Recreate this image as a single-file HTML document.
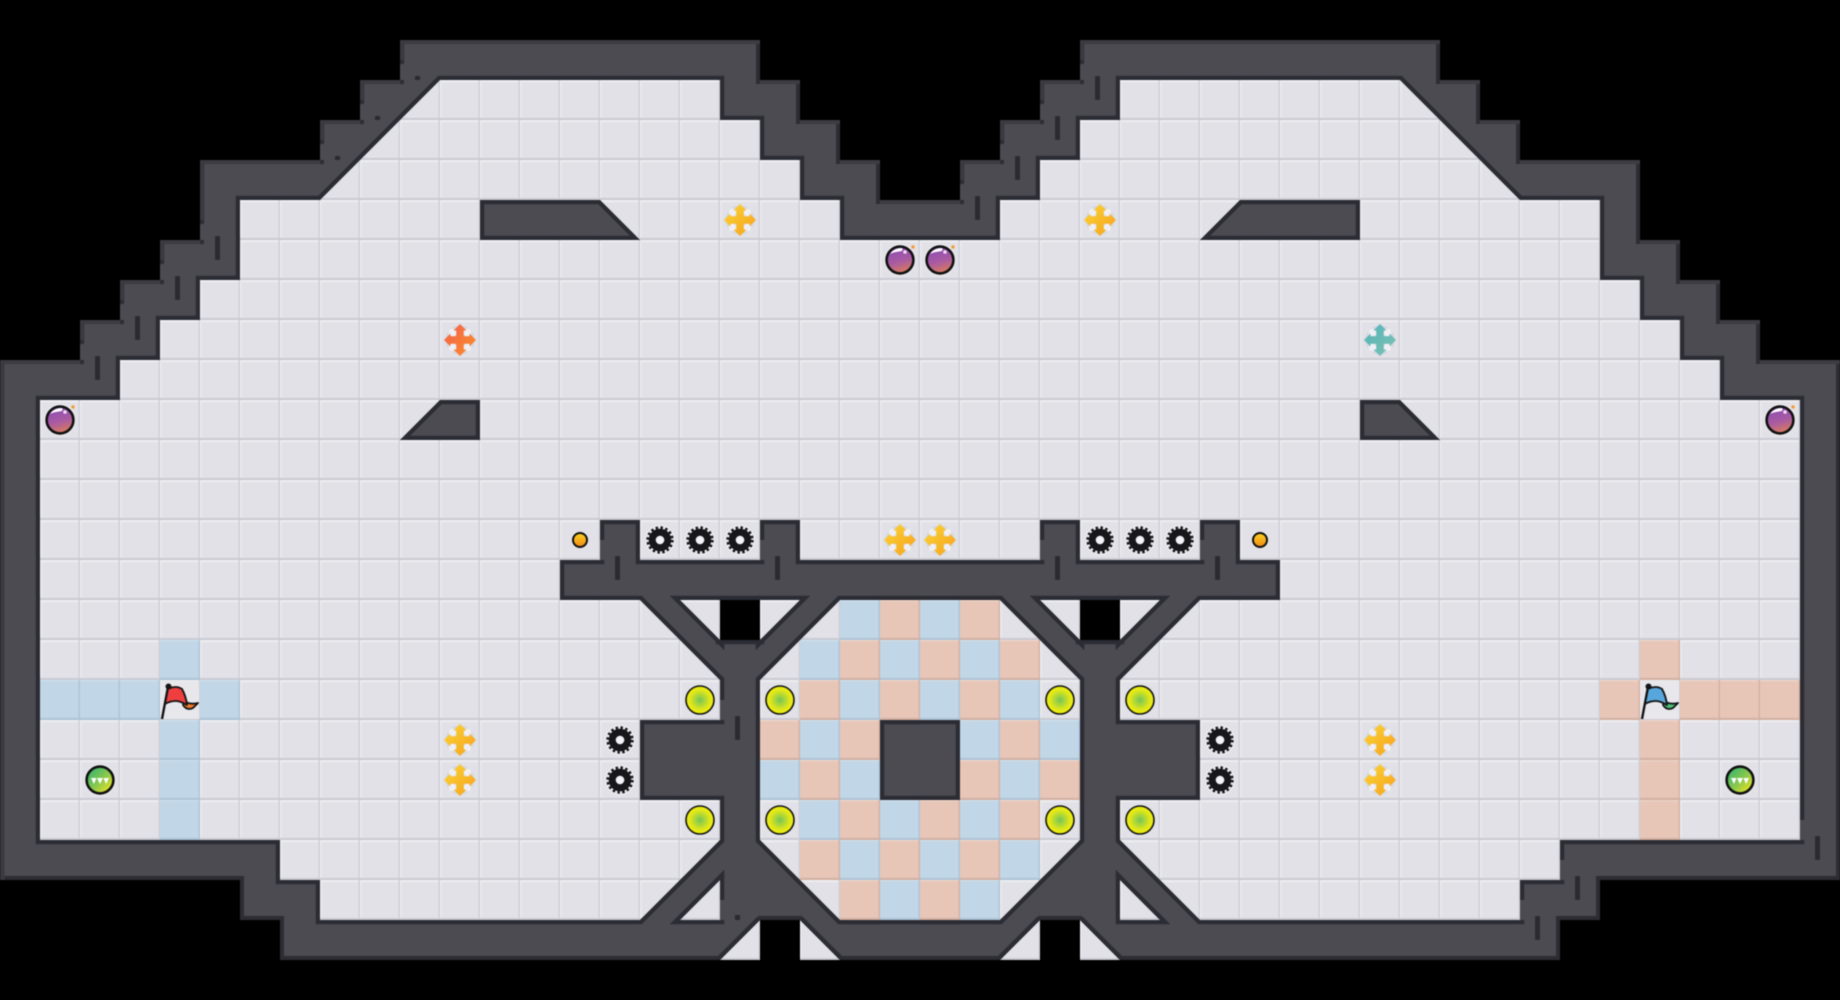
<!DOCTYPE html>
<html><head><meta charset="utf-8"><style>html,body{margin:0;padding:0;background:#000;overflow:hidden}svg{display:block;filter:blur(.55px)}</style></head>
<body>
<svg xmlns="http://www.w3.org/2000/svg" width="1840" height="1000" viewBox="0 0 1840 1000">
<defs>
<pattern id="t" width="40" height="40" patternUnits="userSpaceOnUse"><rect width="40" height="40" fill="#e1e1e7"/><rect width="40" height="2" fill="#ecedf1"/><rect width="1.500" height="40" fill="#ebebef"/><rect x="38.500" width="1.500" height="40" fill="#d0d0d8"/><rect y="38" width="40" height="2" fill="#cacad3"/></pattern>
<pattern id="b" width="40" height="40" patternUnits="userSpaceOnUse"><rect width="40" height="40" fill="#c1d6e6"/><rect width="40" height="1.500" fill="#cbdeec"/><rect x="38.500" width="1.500" height="40" fill="#afc6d9"/><rect y="38" width="40" height="2" fill="#adc4d7"/></pattern>
<pattern id="p" width="40" height="40" patternUnits="userSpaceOnUse"><rect width="40" height="40" fill="#e7c6b8"/><rect width="40" height="1.500" fill="#edd2c6"/><rect x="38.500" width="1.500" height="40" fill="#d4b1a3"/><rect y="38" width="40" height="2" fill="#d2afa1"/></pattern>
<linearGradient id="gy" x1="0" y1="0" x2="1" y2="1"><stop offset="0" stop-color="#fcd634"/><stop offset="1" stop-color="#f6a01e"/></linearGradient>
<linearGradient id="go" x1="0" y1="0" x2="1" y2="1"><stop offset="0" stop-color="#f4604a"/><stop offset="1" stop-color="#fb8f2a"/></linearGradient>
<linearGradient id="gt" x1="0" y1="0" x2="1" y2="1"><stop offset="0" stop-color="#54b3b8"/><stop offset="1" stop-color="#7dc2b4"/></linearGradient>
<radialGradient id="gl"><stop offset="0" stop-color="#74c45a"/><stop offset=".7" stop-color="#dfe71a"/><stop offset="1" stop-color="#f2f00a"/></radialGradient>
<linearGradient id="gb" x1="0.2" y1="0" x2="0.5" y2="1"><stop offset="0" stop-color="#8a4ab8"/><stop offset=".6" stop-color="#aa5ca0"/><stop offset="1" stop-color="#da7a5c"/></linearGradient>
<linearGradient id="gg" x1="0.1" y1="0.1" x2="0.9" y2="0.9"><stop offset="0" stop-color="#36b46e"/><stop offset=".55" stop-color="#8cc84c"/><stop offset="1" stop-color="#ece420"/></linearGradient>
<linearGradient id="gd" x1="0" y1="0" x2="0" y2="1"><stop offset="0" stop-color="#ffd420"/><stop offset="1" stop-color="#ee8812"/></linearGradient>
<path id="wallp" fill-rule="evenodd" d="M0 360H80V320H120V280H160V240H200V160H320V120H360V80H400V40H760V80H800V120H840V160H880V200H960V160H1000V120H1040V80H1080V40H1440V80H1480V120H1520V160H1640V240H1680V280H1720V320H1760V360H1840V880H1600V920H1560V960H1120L1080 920H1040L1000 960H840L800 920H760L720 960H280V920H240V880H0Z
M40 400H120V360H160V320H200V280H240V200H320L440 80H720V120H760V160H800V200H840V240H1000V200H1040V160H1080V120H1120V80H1400L1520 200H1600V280H1640V320H1680V360H1720V400H1800V840H1560V880H1520V920H1200L1120 840V800H1200V720H1120V680L1200 600H1280V560H1240V520H1200V560H1080V520H1040V560H800V520H760V560H640V520H600V560H560V600H640L720 680V720H640V800H720V840L640 920H320V880H280V840H40Z
M760 680L840 600H1000L1080 680V840L1000 920H840L760 840Z
M880 720H960V800H880Z
M480 200H600L640 240H480Z M1360 200H1240L1200 240H1360Z M400 440L440 400H480V440Z M1440 440L1400 400H1360V440Z
M680 600H720V640Z M760 600H800L760 640Z M1160 600H1120V640Z M1080 600H1040L1080 640Z M680 920L720 880V920Z M1160 920L1120 880V920Z
M720 600H760V640H720Z M1080 600H1120V640H1080Z"/>
<clipPath id="wc"><path clip-rule="evenodd" d="M0 360H80V320H120V280H160V240H200V160H320V120H360V80H400V40H760V80H800V120H840V160H880V200H960V160H1000V120H1040V80H1080V40H1440V80H1480V120H1520V160H1640V240H1680V280H1720V320H1760V360H1840V880H1600V920H1560V960H1120L1080 920H1040L1000 960H840L800 920H760L720 960H280V920H240V880H0Z
M40 400H120V360H160V320H200V280H240V200H320L440 80H720V120H760V160H800V200H840V240H1000V200H1040V160H1080V120H1120V80H1400L1520 200H1600V280H1640V320H1680V360H1720V400H1800V840H1560V880H1520V920H1200L1120 840V800H1200V720H1120V680L1200 600H1280V560H1240V520H1200V560H1080V520H1040V560H800V520H760V560H640V520H600V560H560V600H640L720 680V720H640V800H720V840L640 920H320V880H280V840H40Z
M760 680L840 600H1000L1080 680V840L1000 920H840L760 840Z
M880 720H960V800H880Z
M480 200H600L640 240H480Z M1360 200H1240L1200 240H1360Z M400 440L440 400H480V440Z M1440 440L1400 400H1360V440Z
M680 600H720V640Z M760 600H800L760 640Z M1160 600H1120V640Z M1080 600H1040L1080 640Z M680 920L720 880V920Z M1160 920L1120 880V920Z
M720 600H760V640H720Z M1080 600H1120V640H1080Z"/></clipPath>
<g id="cross"><circle r="14.500" fill="#d2d5e0" opacity=".85"/><circle cx="-7.500" cy="-7.500" r="3.800" fill="#f0f0f4"/><circle cx="7.500" cy="-7.500" r="3.800" fill="#f0f0f4"/><circle cx="-7.500" cy="7.500" r="3.800" fill="#f0f0f4"/><circle cx="7.500" cy="7.500" r="3.800" fill="#f0f0f4"/><path d="M0 -16L6.500 -9.500H3.700V-3.700H9.500V-6.500L16 0L9.500 6.500V3.700H3.700V9.500H6.500L0 16L-6.500 9.500H-3.700V3.700H-9.500V6.500L-16 0L-9.500 -6.500V-3.700H-3.700V-9.500H-6.500Z"/></g>
<g id="gear"><circle r="15.500" fill="#ecedf0" opacity=".6"/><circle r="11.300" fill="#18181c"/><circle r="12" fill="none" stroke="#18181c" stroke-width="3.400" stroke-dasharray="2.360 2.360"/><circle r="4.300" fill="#f4f4f6"/></g>
<g id="lime"><circle r="14" fill="url(#gl)" stroke="#141414" stroke-width="1.600"/></g>
<g id="bomb"><circle r="16" fill="#ecedf0" opacity=".6"/><circle r="13.400" fill="url(#gb)" stroke="#111" stroke-width="2.600"/><path d="M-10 -6Q-6 -12 2 -12Q4 -9 -1 -8.500Q-6 -8 -10 -6Z" fill="#fff"/><circle cx="5" cy="-8" r="1.800" fill="#f0dcf0"/><rect x="11.500" y="-14.500" width="3" height="3" fill="#f39a2c"/></g>
<g id="green"><circle r="16" fill="#ecedf0" opacity=".6"/><circle r="13.400" fill="url(#gg)" stroke="#111" stroke-width="2.600"/><path d="M-9 -2H-3.500L-6 4ZM-3 -2H3L0 4ZM3.500 -2H9L6 4Z" fill="#fff"/></g>
<g id="dot"><circle r="7" fill="url(#gd)" stroke="#111" stroke-width="2"/></g>
</defs>
<rect width="1840" height="1000" fill="#000"/>
<!-- floor -->
<path fill="url(#t)" d="M0 360H80V320H120V280H160V240H200V160H320V120H360V80H400V40H760V80H800V120H840V160H880V200H960V160H1000V120H1040V80H1080V40H1440V80H1480V120H1520V160H1640V240H1680V280H1720V320H1760V360H1840V880H1600V920H1560V960H1120L1080 920H1040L1000 960H840L800 920H760L720 960H280V920H240V880H0Z"/>
<path fill="url(#t)" d="M720 960L760 920V960Z M800 920L840 960H800Z M1000 960L1040 920V960Z M1080 920L1120 960H1080Z"/>
<!-- coloured tiles -->
<path fill="url(#b)" d="M160 640h40v40h-40z M40 680h120v40h-120z M200 680h40v40h-40z M160 720h40v120h-40z
M840 600h40v40h-40z M920 600h40v40h-40z
M800 640h40v40h-40z M880 640h40v40h-40z M960 640h40v40h-40z
M840 680h40v40h-40z M920 680h40v40h-40z M1000 680h40v40h-40z
M800 720h40v40h-40z M960 720h40v40h-40z M1040 720h40v40h-40z
M760 760h40v40h-40z M840 760h40v40h-40z M1000 760h40v40h-40z
M800 800h40v40h-40z M880 800h40v40h-40z M960 800h40v40h-40z
M840 840h40v40h-40z M920 840h40v40h-40z M1000 840h40v40h-40z
M880 880h40v40h-40z M960 880h40v40h-40z"/>
<path fill="url(#p)" d="M1640 640h40v40h-40z M1600 680h40v40h-40z M1680 680h120v40h-120z M1640 720h40v120h-40z
M880 600h40v40h-40z M960 600h40v40h-40z
M840 640h40v40h-40z M920 640h40v40h-40z M1000 640h40v40h-40z
M800 680h40v40h-40z M880 680h40v40h-40z M960 680h40v40h-40z
M760 720h40v40h-40z M840 720h40v40h-40z M1000 720h40v40h-40z
M800 760h40v40h-40z M960 760h40v40h-40z M1040 760h40v40h-40z
M840 800h40v40h-40z M920 800h40v40h-40z M1000 800h40v40h-40z
M800 840h40v40h-40z M880 840h40v40h-40z M960 840h40v40h-40z
M840 880h40v40h-40z M920 880h40v40h-40z"/>
<!-- black gaps -->
<rect x="720" y="600" width="40" height="40" fill="#000"/><rect x="1080" y="600" width="40" height="40" fill="#000"/>
<!-- walls -->
<use href="#wallp" fill="#4b4b51"/>
<g clip-path="url(#wc)">
<path fill="none" stroke="#2d2d33" stroke-width="8" d="M0 360H80V320H120V280H160V240H200V160H320V120H360V80H400V40H760V80H800V120H840V160H880V200H960V160H1000V120H1040V80H1080V40H1440V80H1480V120H1520V160H1640V240H1680V280H1720V320H1760V360H1840V880H1600V920H1560V960H1120L1080 920H1040L1000 960H840L800 920H760L720 960H280V920H240V880H0Z"/>
<path fill="none" stroke="#2c2c34" stroke-width="8.500" d="M40 400H120V360H160V320H200V280H240V200H320L440 80H720V120H760V160H800V200H840V240H1000V200H1040V160H1080V120H1120V80H1400L1520 200H1600V280H1640V320H1680V360H1720V400H1800V840H1560V880H1520V920H1200L1120 840V800H1200V720H1120V680L1200 600H1280V560H1240V520H1200V560H1080V520H1040V560H800V520H760V560H640V520H600V560H560V600H640L720 680V720H640V800H720V840L640 920H320V880H280V840H40Z
M760 680L840 600H1000L1080 680V840L1000 920H840L760 840Z
M880 720H960V800H880Z
M480 200H600L640 240H480Z M1360 200H1240L1200 240H1360Z M400 440L440 400H480V440Z M1440 440L1400 400H1360V440Z
M680 600H720V640Z M760 600H800L760 640Z M1160 600H1120V640Z M1080 600H1040L1080 640Z M680 920L720 880V920Z M1160 920L1120 880V920Z
M720 600H760V640H720Z M1080 600H1120V640H1080Z
M720 960L760 920M800 920L840 960M1000 960L1040 920M1080 920L1120 960"/>
<!-- lighter top / left outer strips -->
<path fill="none" stroke="#3c3c42" stroke-width="8" d="M0 360h80M80 320h40M120 280h40M160 240h40M200 160h120M320 120h40M360 80h40M400 40h360M760 80h40M800 120h40M840 160h40M880 200h80M960 160h40M1000 120h40M1040 80h40M1080 40h360M1440 80h40M1480 120h40M1520 160h120M1640 240h40M1680 280h40M1720 320h40M1760 360h80"/>
<path fill="none" stroke="#3a3a40" stroke-width="9" d="M0 360V880M400 40v20M360 80v20M320 120v20M200 160v60M160 240v20M120 280v20M80 320v20M960 160v20M1000 120v20M1040 80v20M1080 40v20"/>
<!-- plain patches where strips stop -->
<path fill="#4b4b51" d="M400 64h5v16h-5zM360 104h5v16h-5zM320 144h5v16h-5zM200 224h5v16h-5zM160 264h5v16h-5zM120 304h5v16h-5zM80 344h5v16h-5zM960 184h5v16h-5zM1000 144h5v16h-5zM1040 104h5v16h-5zM1080 64h5v16h-5z
M600 540h5v20h-5zM760 540h5v20h-5zM1040 540h5v20h-5zM1200 540h5v20h-5zM720 700h5v20h-5zM720 900h5v20h-5zM1800 820h5v20h-5zM1560 860h5v20h-5zM1520 900h5v20h-5z"/>
<!-- bars -->
<g fill="#2a2a31">
<rect x="95" y="356" width="5" height="24" rx="1.500"/><rect x="135" y="316" width="5" height="24" rx="1.500"/><rect x="175" y="276" width="5" height="24" rx="1.500"/><rect x="215" y="236" width="5" height="24" rx="1.500"/>
<rect x="335" y="156" width="5" height="4"/><rect x="375" y="116" width="5" height="4"/><rect x="415" y="76" width="5" height="4"/>
<rect x="975" y="196" width="5" height="24" rx="1.500"/><rect x="1015" y="156" width="5" height="24" rx="1.500"/><rect x="1055" y="116" width="5" height="24" rx="1.500"/><rect x="1095" y="76" width="5" height="24" rx="1.500"/>
<rect x="615" y="556" width="5" height="24" rx="1.500"/><rect x="775" y="556" width="5" height="24" rx="1.500"/><rect x="1055" y="556" width="5" height="24" rx="1.500"/><rect x="1215" y="556" width="5" height="24" rx="1.500"/>
<rect x="735" y="716" width="5" height="24" rx="1.500"/><rect x="735" y="915" width="5" height="5"/>
<rect x="1815" y="836" width="5" height="24" rx="1.500"/><rect x="1575" y="876" width="5" height="24" rx="1.500"/><rect x="1535" y="916" width="5" height="24" rx="1.500"/>
</g>
</g>
<!-- items -->
<g fill="url(#gy)">
<use href="#cross" x="740" y="220"/><use href="#cross" x="1100" y="220"/><use href="#cross" x="900" y="540"/><use href="#cross" x="940" y="540"/>
<use href="#cross" x="460" y="740"/><use href="#cross" x="460" y="780"/><use href="#cross" x="1380" y="740"/><use href="#cross" x="1380" y="780"/>
</g>
<use href="#cross" x="460" y="340" fill="url(#go)"/>
<use href="#cross" x="1380" y="340" fill="url(#gt)"/>
<use href="#bomb" x="900" y="260"/><use href="#bomb" x="940" y="260"/><use href="#bomb" x="60" y="420"/><use href="#bomb" x="1780" y="420"/>
<use href="#dot" x="580" y="540"/><use href="#dot" x="1260" y="540"/>
<use href="#gear" x="660" y="540"/><use href="#gear" x="700" y="540"/><use href="#gear" x="740" y="540"/>
<use href="#gear" x="1100" y="540"/><use href="#gear" x="1140" y="540"/><use href="#gear" x="1180" y="540"/>
<use href="#gear" x="620" y="740"/><use href="#gear" x="620" y="780"/><use href="#gear" x="1220" y="740"/><use href="#gear" x="1220" y="780"/>
<use href="#lime" x="700" y="700"/><use href="#lime" x="780" y="700"/><use href="#lime" x="1060" y="700"/><use href="#lime" x="1140" y="700"/>
<use href="#lime" x="700" y="820"/><use href="#lime" x="780" y="820"/><use href="#lime" x="1060" y="820"/><use href="#lime" x="1140" y="820"/>
<use href="#green" x="100" y="780"/><use href="#green" x="1740" y="780"/>
<!-- flags -->
<g>
<rect x="161" y="681" width="38" height="38" fill="#e8e8ec"/>
<path d="M162 719L168 687" stroke="#151515" stroke-width="2.400" fill="none"/><circle cx="168.500" cy="686.500" r="3" fill="#151515"/>
<path d="M184 701Q190 705 198 703L193 708Q187 711 183 705Z" fill="#f07a28" stroke="#151515" stroke-width="1.800" stroke-linejoin="round"/>
<path d="M168 689Q176 685 182 689Q186 696 187 705Q180 701 176 701Q170 701 165 704Z" fill="#ee3e40" stroke="#151515" stroke-width="1.800" stroke-linejoin="round"/>
</g>
<g transform="translate(1480 0)">
<rect x="161" y="681" width="38" height="38" fill="#e8e8ec"/>
<path d="M162 719L168 687" stroke="#151515" stroke-width="2.400" fill="none"/><circle cx="168.500" cy="686.500" r="3" fill="#151515"/>
<path d="M184 701Q190 705 198 703L193 708Q187 711 183 705Z" fill="#4fbf7a" stroke="#151515" stroke-width="1.800" stroke-linejoin="round"/>
<path d="M168 689Q176 685 182 689Q186 696 187 705Q180 701 176 701Q170 701 165 704Z" fill="#57a6dc" stroke="#151515" stroke-width="1.800" stroke-linejoin="round"/>
</g>
</svg>
</body></html>
